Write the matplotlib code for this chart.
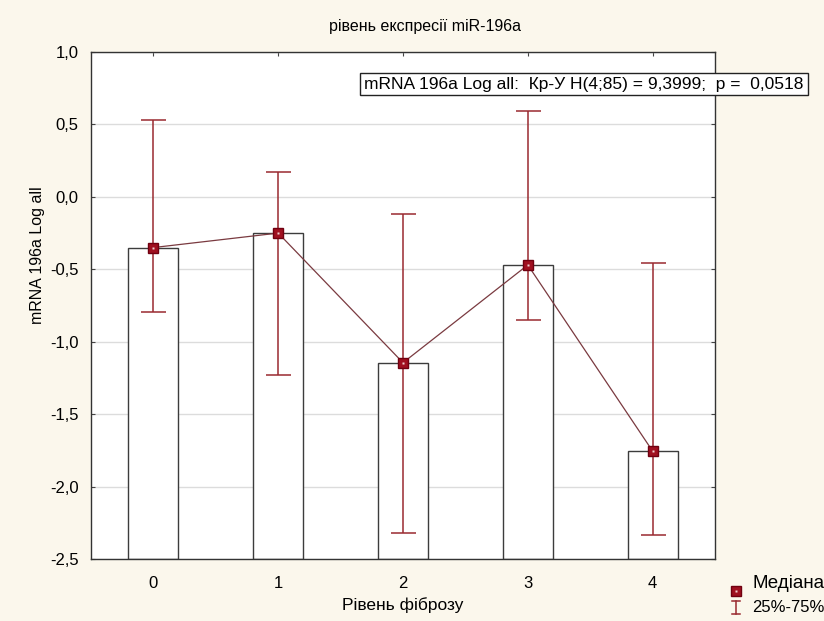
import matplotlib
matplotlib.use("Agg")
import matplotlib.pyplot as plt
from matplotlib.lines import Line2D
from matplotlib.ticker import FuncFormatter
import numpy as np

plt.rcParams['font.family'] = ['Liberation Sans', 'DejaVu Sans']

categories = [0, 1, 2, 3, 4]
medians = [-0.35, -0.25, -1.145, -0.47, -1.755]
q25 = [-0.795, -1.232, -2.32, -0.852, -2.333]
q75 = [0.53, 0.172, -0.118, 0.592, -0.458]

title = "рівень експресії miR-196a"
xlabel = "Рівень фіброзу"
ylabel = "mRNA 196a Log all"
stat_text = "mRNA 196a Log all:  Кр-У H(4;85) = 9,3999;  p =  0,0518"
legend_labels = ["Медіана", "25%-75%"]

W, H = 824, 621
fig = plt.figure(figsize=(W / 100, H / 100), dpi=100)
bg = '#fbf7ec'
fig.patch.set_facecolor(bg)

left, right, top, bottom = 91, 715, 52, 559
ax = fig.add_axes([left / W, 1 - bottom / H, (right - left) / W, (bottom - top) / H])
ax.set_facecolor('white')

ymin, ymax = -2.5, 1.0
ax.set_xlim(-0.5, 4.5)
ax.set_ylim(ymin, ymax)

x = np.array(categories)
med = np.array(medians)
lo = np.array(q25)
hi = np.array(q75)

ax.bar(x, med - ymin, bottom=ymin, width=0.4, facecolor='white',
       edgecolor='#3c3c3c', linewidth=1.0, zorder=2)

err_col = '#9a2a30'
ax.errorbar(x, med, yerr=[med - lo, hi - med], fmt='none', ecolor=err_col,
            elinewidth=1.1, capsize=9, capthick=1.1, zorder=3)
ax.plot(x, med, color='#7a3a40', linewidth=0.9, zorder=4)
ax.plot(x, med, linestyle='none', marker='s', markersize=6.5,
        markerfacecolor='#a01020', markeredgecolor='#700010', zorder=5)
ax.plot(x, med, linestyle='none', marker='s', markersize=1.6,
        markerfacecolor='#f0d0d0', markeredgecolor='none', zorder=6)

yt = np.arange(-2.5, 1.01, 0.5)
ax.set_yticks(yt)
ax.yaxis.set_major_formatter(FuncFormatter(lambda v, p: f"{v:.1f}".replace('.', ',')))
ax.set_xticks(x)
ax.set_xticklabels([str(c) for c in categories])
ax.grid(axis='y', color='#dcdcdc', linewidth=1.0, zorder=0)
ax.set_axisbelow(True)
ax.tick_params(direction='in', length=3, top=True, right=True, labelsize=12,
               color='#444444', pad=9)
ax.tick_params(axis='x', pad=12)
for s in ax.spines.values():
    s.set_color('#333333')
    s.set_linewidth(1.0)

ax.set_xlabel(xlabel, fontsize=12.5, labelpad=5)
fig.text(38 / W, 1 - 255 / H, ylabel, rotation=90, ha='center', va='center', fontsize=11.5)

fig.text(425 / W, 1 - 26 / H, title, ha='center', va='center', fontsize=11.5)

fig.text(584 / W, 1 - 84 / H, stat_text, ha='center', va='center', fontsize=12.5,
         bbox=dict(boxstyle='square,pad=0.22', facecolor='white', edgecolor='#222222',
                   linewidth=1.0), zorder=10)

# legend
fig.add_artist(Line2D([736 / W], [1 - 591 / H], marker='s', markersize=7,
                      markerfacecolor='#a01020', markeredgecolor='#700010',
                      transform=fig.transFigure))
fig.add_artist(Line2D([736 / W], [1 - 591 / H], marker='s', markersize=1.8,
                      markerfacecolor='#f0d0d0', markeredgecolor='none',
                      transform=fig.transFigure))
fig.text(753 / W, 1 - 583 / H, legend_labels[0], ha='left', va='center', fontsize=13.5)
ix = 736
fig.add_artist(Line2D([ix / W, ix / W], [1 - 601 / H, 1 - 614 / H], color=err_col,
                      linewidth=1.1, transform=fig.transFigure))
for yy in (601, 614):
    fig.add_artist(Line2D([(ix - 4) / W, (ix + 4) / W], [1 - yy / H, 1 - yy / H],
                          color=err_col, linewidth=1.1, transform=fig.transFigure))
fig.text(752 / W, 1 - 607 / H, legend_labels[1], ha='left', va='center', fontsize=12)

fig.savefig('out.png', dpi=100, facecolor=bg)
